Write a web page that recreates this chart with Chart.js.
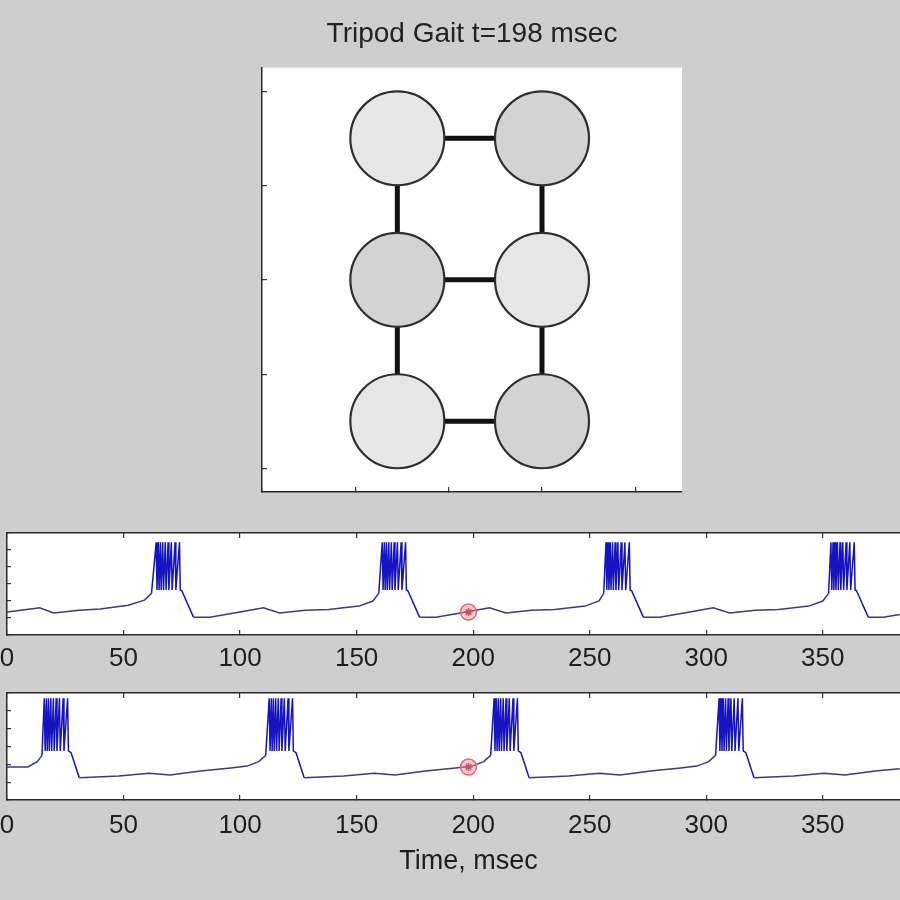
<!DOCTYPE html>
<html>
<head>
<meta charset="utf-8">
<script src="https://cdn.jsdelivr.net/npm/chart.js@4.4.1/dist/chart.umd.min.js"></script>
<style>
  html, body { margin: 0; padding: 0; width: 900px; height: 900px; overflow: hidden; background: #cecece; }
  canvas { position: absolute; display: block; left: 0; }
  #gait { top: 0; }
  #trace1 { top: 500px; }
  #trace2 { top: 680px; }
</style>
</head>
<body>
<canvas id="gait" width="900" height="510"></canvas>
<canvas id="trace1" width="930" height="190"></canvas>
<canvas id="trace2" width="930" height="220"></canvas>
<script>
// --- data ---
const markerT = 198;

// leg layout (top panel), phase 0 = light, 1 = dark
const legX = [1.45, 3.0, 1.45, 3.0, 1.45, 3.0];
const legY = [3.5, 3.5, 2.0, 2.0, 0.5, 0.5];
const legPhase = [0, 1, 1, 0, 0, 1];
const links = [[0, 1], [2, 3], [4, 5], [0, 2], [2, 4], [1, 3], [3, 5]];

// upper trace (msec, mV)
const t1 = [0, 6, 14, 20, 31, 40, 52, 59, 62,
  64, 64.35, 64.9, 65.25, 65.8, 66.15, 66.8, 67.15, 67.9, 68.25, 69.1, 69.45, 70.5, 70.85, 72.1, 72.45, 74, 74.35, 75,
  80, 87, 100, 110, 117, 128, 138, 151, 157, 159.5,
  161, 161.35, 161.9, 162.25, 162.8, 163.15, 163.8, 164.15, 164.9, 165.25, 166.1, 166.45, 167.5, 167.85, 169.1, 169.45, 171, 171.35, 172,
  177, 184, 197, 207, 214, 225, 235, 248, 254, 256,
  257, 257.35, 257.9, 258.25, 258.8, 259.15, 259.8, 260.15, 260.9, 261.25, 262.1, 262.45, 263.5, 263.85, 265.1, 265.45, 267, 267.35, 268,
  273, 280, 293, 303, 310, 321, 331, 344, 350, 352.5,
  353.5, 353.85, 354.4, 354.75, 355.3, 355.65, 356.3, 356.65, 357.4, 357.75, 358.6, 358.95, 360, 360.35, 361.6, 361.95, 363.5, 363.85, 364.5,
  369.5, 376, 383];
const v1 = [-53, -51, -48, -54, -51, -49.5, -45, -39, -31,
  29, -27, 29, -27, 29, -27, 29, -27, 29, -27, 29, -27, 29, -27, 29, -27, 29, -27, -28,
  -59, -59, -53, -48, -54, -51, -50, -46, -40, -31,
  29, -27, 29, -27, 29, -27, 29, -27, 29, -27, 29, -27, 29, -27, 29, -27, 29, -27, -28,
  -59, -59, -53, -48, -54, -51, -50, -46, -40, -31,
  29, -27, 29, -27, 29, -27, 29, -27, 29, -27, 29, -27, 29, -27, 29, -27, 29, -27, -28,
  -59, -59, -53, -48, -54, -51, -50, -46, -40, -31,
  29, -27, 29, -27, 29, -27, 29, -27, 29, -27, 29, -27, 29, -27, 29, -27, 29, -27, -28,
  -59, -59, -56];
const marker1 = -53;

// lower trace (msec, mV)
const t2 = [0, 9, 13, 15,
  16, 16.35, 16.9, 17.25, 17.8, 18.15, 18.8, 19.15, 19.9, 20.25, 21.1, 21.45, 22.5, 22.85, 24.1, 24.45, 26, 26.35, 27.5,
  31, 48, 61, 70, 83, 96, 103, 108, 111,
  112.5, 112.85, 113.4, 113.75, 114.3, 114.65, 115.3, 115.65, 116.4, 116.75, 117.6, 117.95, 119, 119.35, 120.6, 120.95, 122.5, 122.85, 124,
  127.5, 144.5, 157.5, 166.5, 179.5, 192.5, 199.5, 204.5, 207.5,
  209, 209.35, 209.9, 210.25, 210.8, 211.15, 211.8, 212.15, 212.9, 213.25, 214.1, 214.45, 215.5, 215.85, 217.1, 217.45, 219, 219.35, 220.5,
  224, 241, 254, 263, 276, 289, 296, 301, 304,
  305.5, 305.85, 306.4, 306.75, 307.3, 307.65, 308.3, 308.65, 309.4, 309.75, 310.6, 310.95, 312, 312.35, 313.6, 313.95, 315.5, 315.85, 317,
  320.5, 337.5, 350.5, 359.5, 372.5, 383];
const v2 = [-43, -43, -37, -30,
  34, -25, 34, -25, 34, -25, 34, -25, 34, -25, 34, -25, 34, -25, 34, -25, 34, -25, -27,
  -55, -53, -50, -52, -47.5, -44, -42, -37, -30,
  34, -25, 34, -25, 34, -25, 34, -25, 34, -25, 34, -25, 34, -25, 34, -25, 34, -25, -27,
  -55, -53, -50, -52, -47.5, -44, -42, -37, -30,
  34, -25, 34, -25, 34, -25, 34, -25, 34, -25, 34, -25, 34, -25, 34, -25, 34, -25, -27,
  -55, -53, -50, -52, -47.5, -44, -42, -37, -30,
  34, -25, 34, -25, 34, -25, 34, -25, 34, -25, 34, -25, 34, -25, 34, -25, 34, -25, -27,
  -55, -53, -50, -52, -47.5, -45];
const marker2 = -43;

// --- drawing ---
Chart.defaults.font.family = '"Liberation Sans", Arial, sans-serif';

// white plot area like the MATLAB axes
const plotBg = {
  id: 'plotBg',
  beforeDraw(chart) {
    const { ctx, chartArea: a } = chart;
    ctx.save();
    ctx.fillStyle = '#ffffff';
    ctx.fillRect(a.left, a.top, a.right - a.left, a.bottom - a.top);
    ctx.restore();
  }
};

// force an axis to a fixed thickness, no label overhang
const squeeze = (size) => (scale) => {
  if (scale.isHorizontal()) scale.height = size; else scale.width = size;
  scale.paddingLeft = scale.paddingRight = scale.paddingTop = scale.paddingBottom = 0;
};

const axisLine = { color: '#2a2a2a', width: 1.5 };
const inTicks = { drawOnChartArea: false, tickLength: -5, color: '#333', lineWidth: 1.2 };

new Chart(document.getElementById('gait'), {
  type: 'scatter',
  data: {
    datasets: [
      {
        data: legX.map((x, i) => ({ x: x, y: legY[i] })),
        pointRadius: 47,
        pointBackgroundColor: legPhase.map(p => p ? '#d3d3d3' : '#e6e6e6'),
        pointBorderColor: '#2e2e2e',
        pointBorderWidth: 2.2,
        order: 0
      },
      ...links.map(([a, b]) => ({
        data: [{ x: legX[a], y: legY[a] }, { x: legX[b], y: legY[b] }],
        showLine: true,
        borderColor: '#111',
        borderWidth: 5,
        pointRadius: 0,
        order: 1
      }))
    ]
  },
  options: {
    responsive: false,
    animation: false,
    events: [],
    layout: { autoPadding: false, padding: { left: 262, right: 218, top: 0, bottom: 18 } },
    plugins: {
      legend: { display: false },
      tooltip: { enabled: false },
      title: {
        display: true,
        text: 'Tripod Gait t=' + markerT + ' msec',
        color: '#222',
        font: { size: 28, weight: 'normal' },
        padding: { top: 17, bottom: 17 }
      }
    },
    scales: {
      x: {
        min: 0, max: 4.5, afterFit: squeeze(0),
        ticks: { stepSize: 1, includeBounds: false, display: false },
        grid: inTicks, border: axisLine
      },
      y: {
        min: -0.25, max: 4.25, afterFit: squeeze(0),
        ticks: { stepSize: 1, includeBounds: false, display: false },
        grid: inTicks, border: axisLine
      }
    }
  },
  plugins: [plotBg]
});

// spikes drawn in saturated blue, the slow baseline a duller blue-grey
const spikeColor = (ctx) =>
  (ctx.p0.parsed.y > -29 || ctx.p1.parsed.y > -29) ? '#1414c0' : '#3a3a80';

function traceChart(id, times, volts, markV, padTop, axisH, labelPad, xTitle) {
  const xMax = 396;
  return new Chart(document.getElementById(id), {
    type: 'line',
    data: {
      datasets: [
        {
          data: [{ x: markerT, y: markV }], showLine: false,
          pointRadius: 8, pointBorderWidth: 1.5,
          pointBackgroundColor: 'rgba(240,140,150,0.45)', pointBorderColor: '#e06a74'
        },
        {
          data: [{ x: markerT, y: markV }], showLine: false,
          pointStyle: 'star', pointRadius: 4, pointBorderWidth: 1.5,
          pointBorderColor: '#a8202c'
        },
        {
          data: times.map((t, i) => ({ x: t, y: volts[i] })),
          borderColor: '#2222a8', borderWidth: 1.5,
          segment: { borderColor: spikeColor },
          pointRadius: 0, tension: 0, order: 1
        }
      ]
    },
    options: {
      responsive: false,
      animation: false,
      events: [],
      layout: { autoPadding: false, padding: { left: 7, right: 0, top: padTop, bottom: 0 } },
      plugins: { legend: { display: false }, tooltip: { enabled: false } },
      scales: {
        x: {
          type: 'linear', position: 'bottom', min: 0, max: xMax, afterFit: squeeze(axisH),
          ticks: {
            stepSize: 50, includeBounds: false, maxRotation: 0, autoSkip: false,
            padding: labelPad, color: '#1e1e1e', font: { size: 26 }
          },
          grid: inTicks, border: axisLine,
          title: {
            display: !!xTitle, text: xTitle || '', color: '#1e1e1e',
            font: { size: 27 }, padding: { top: 0, bottom: 22 }
          }
        },
        xTop: {
          type: 'linear', position: 'top', min: 0, max: xMax, afterFit: squeeze(0),
          ticks: { stepSize: 50, includeBounds: false, display: false },
          grid: inTicks, border: axisLine
        },
        y: {
          type: 'linear', position: 'left', min: -80, max: 40, afterFit: squeeze(0),
          ticks: { stepSize: 20, display: false },
          grid: { drawOnChartArea: false, tickLength: -4, color: '#333', lineWidth: 1.2 },
          border: axisLine
        }
      }
    },
    plugins: [plotBg]
  });
}

traceChart('trace1', t1, v1, marker1, 33, 55, 13, null);
traceChart('trace2', t2, v2, marker2, 13, 100, 15, 'Time, msec');
</script>
</body>
</html>
